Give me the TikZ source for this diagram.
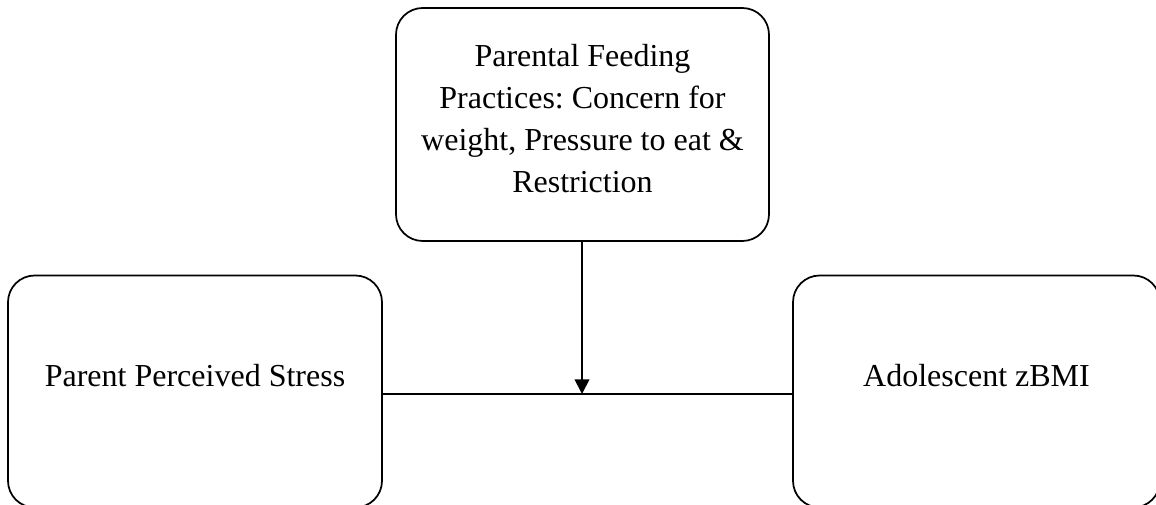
\documentclass[tikz,border=0pt]{standalone}
\usepackage{fontspec}
\setmainfont{Liberation Serif}
\usetikzlibrary{arrows.meta}
\frenchspacing
\begin{document}
\begin{tikzpicture}[x=0.75pt,y=-0.75pt,
  boxstyle/.style={draw=black, line width=1.3pt, rounded corners=20pt, inner sep=0pt},
  lbl/.style={font=\fontsize{24}{31.5}\selectfont, inner sep=0pt, align=center},
  conn/.style={draw=black, line width=1.4pt}]
\useasboundingbox (0,0) rectangle (1156,505);
% boxes
\node[boxstyle, minimum width=280.5pt, minimum height=174pt] (stress) at (195,391.5) {};
\node[boxstyle, minimum width=275.25pt, minimum height=174pt] (zbmi) at (976.5,391.5) {};
\node[boxstyle, minimum width=279.75pt, minimum height=174.75pt] (feed) at (582.5,124.5) {};
% labels
\node[lbl, anchor=base] (stresstxt) at (195,387) {Parent Perceived Stress};
\node[lbl, anchor=base] (zbmitxt) at (976.5,387) {Adolescent zBMI};
\node[lbl, anchor=base] (feedtxt) at (582.5,193) {Parental Feeding\\Practices: Concern for\\weight, Pressure to eat \&\\Restriction};
% connectors
\coordinate (mid) at (582,394);
\draw[conn] (stress.east |- mid) -- (zbmi.west |- mid);
\draw[conn, -{Triangle[length=11pt,width=11pt]}] (feed.south -| mid) -- (mid);
\end{tikzpicture}
\end{document}
